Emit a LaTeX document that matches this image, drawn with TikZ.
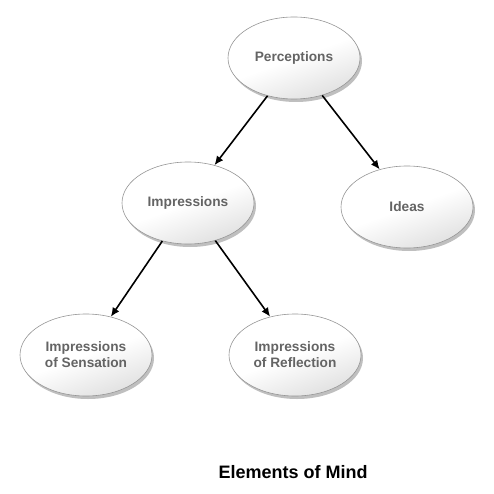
\documentclass[tikz,border=0pt]{standalone}
\usepackage{fontspec}
\setmainfont{Liberation Sans}
\usetikzlibrary{shapes.geometric,shadows,arrows.meta}
\definecolor{txtgray}{RGB}{100,100,100}
\definecolor{edgegray}{RGB}{150,150,150}
\begin{document}
\begin{tikzpicture}[x=1pt,y=-1pt,
  bubble/.style={ellipse, minimum width=132pt, minimum height=82pt, inner sep=0pt,
    draw=edgegray, line width=0.6pt, top color=white, bottom color=white!88!black,
    middle color=white, shading angle=20,
    drop shadow={shadow xshift=2pt, shadow yshift=-3pt, fill=black, opacity=0.25},
    font=\fontsize{13.7}{16}\selectfont\bfseries, text=txtgray, align=center},
  link/.style={-{Latex[length=9pt,width=8pt]}, line width=1.6pt, black}]
\useasboundingbox (0,0) rectangle (493,494);
\node[bubble] (perc) at (294,58) {Perceptions};
\node[bubble] (imp) at (188,203) {Impressions};
\node[bubble] (ideas) at (407,207) {Ideas};
\node[bubble] (sens) at (86,355) {Impressions\\of Sensation};
\node[bubble] (refl) at (295,355) {Impressions\\of Reflection};
\node[font=\fontsize{18}{20}\selectfont\bfseries, text=black] (title) at (293,472) {Elements of Mind};
\draw[link] (perc.-125) -- (imp.55);
\draw[link] (perc.-53) -- (ideas.126);
\draw[link] (imp.-124) -- (sens.57);
\draw[link] (imp.-54) -- (refl.123);
\end{tikzpicture}
\end{document}
